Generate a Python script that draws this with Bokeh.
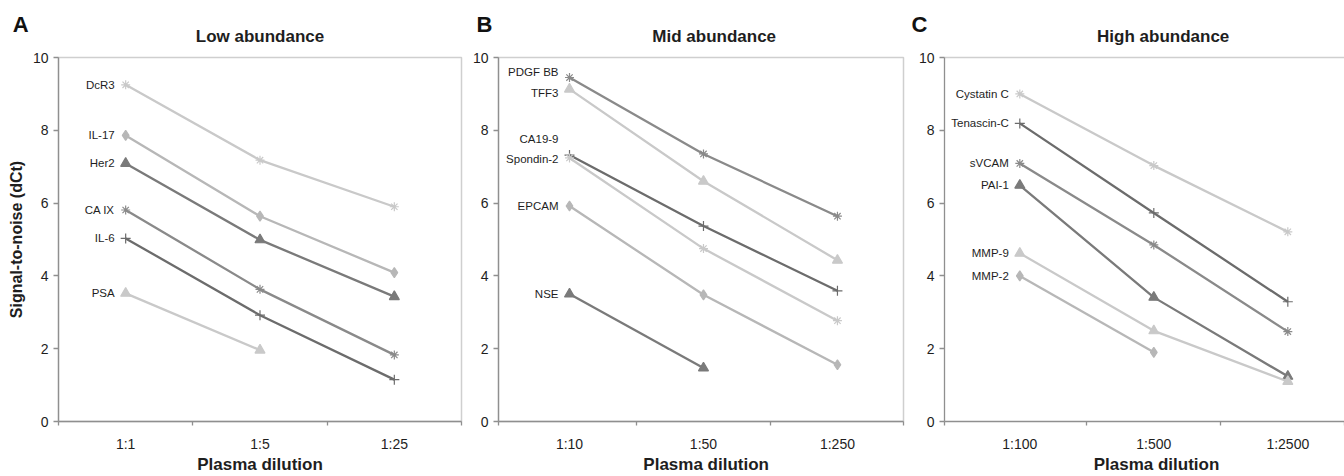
import math
from bokeh.plotting import figure
from bokeh.layouts import row
from bokeh.models import FixedTicker, Label, LinearAxis, Range1d
from bokeh.core.properties import value
from bokeh.embed import file_html
from bokeh.resources import INLINE

NAN = float("nan")

# ---------------- data ----------------
low_dilutions = ["1:1", "1:5", "1:25"]
low_names = ["DcR3", "IL-17", "Her2", "CA IX", "IL-6", "PSA"]
low_values = [
    [9.25, 7.18, 5.90],
    [7.86, 5.64, 4.09],
    [7.09, 4.99, 3.43],
    [5.81, 3.63, 1.83],
    [5.03, 2.92, 1.15],
    [3.52, 1.96, NAN],
]

mid_dilutions = ["1:10", "1:50", "1:250"]
mid_names = ["PDGF BB", "TFF3", "CA19-9", "Spondin-2", "EPCAM", "NSE"]
mid_values = [
    [9.45, 7.35, 5.64],
    [9.13, 6.60, 4.43],
    [7.32, 5.37, 3.59],
    [7.24, 4.75, 2.77],
    [5.92, 3.48, 1.56],
    [3.50, 1.47, NAN],
]

high_dilutions = ["1:100", "1:500", "1:2500"]
high_names = ["Cystatin C", "Tenascin-C", "sVCAM", "PAI-1", "MMP-9", "MMP-2"]
high_values = [
    [9.00, 7.03, 5.21],
    [8.19, 5.73, 3.29],
    [7.09, 4.85, 2.47],
    [6.49, 3.41, 1.24],
    [4.62, 2.49, 1.10],
    [4.00, 1.90, NAN],
]

# ---------------- styles ----------------
LIGHT = "#c9c9c9"
MIDLIGHT = "#b7b7b7"
MIDDARK = "#8a8a8a"
DARK = "#7a7a7a"
DARKEST = "#6c6c6c"
FONT = "Liberation Sans"
TXT = "#1e1e1e"
AXIS = "#8f8f8f"
BORDER = "#cfcfcf"

low_style = [("asterisk", LIGHT), ("diamond", MIDLIGHT), ("triangle", DARK),
             ("asterisk", MIDDARK), ("cross", DARKEST), ("triangle", LIGHT)]
mid_style = [("asterisk", MIDDARK), ("triangle", LIGHT), ("cross", DARKEST),
             ("asterisk", LIGHT), ("diamond", MIDLIGHT), ("triangle", DARK)]
high_style = [("asterisk", LIGHT), ("cross", DARKEST), ("asterisk", MIDDARK),
              ("triangle", DARK), ("triangle", LIGHT), ("diamond", MIDLIGHT)]

# vertical nudges (screen px, + = down) for series name labels
low_label_dy = [0, 0, 0, 0, 0, 0]
mid_label_dy = [-6, 4, -16, 1, 0, 0]
high_label_dy = [0, 0, 0, 0, 0, 0]

H = 476
TOP = 57
BOTTOM = 55
UNIT_Y = (H - TOP - BOTTOM) / 10.0

MSIZE = {"triangle": 10, "diamond": 10, "asterisk": 9, "cross": 10}


def y_of(px):
    """data y for a canvas pixel row (used for text outside the frame)"""
    return 10 - (px - TOP) / UNIT_Y


def make_panel(letter, title, cats, names, vals, styles, label_dy,
               width, left, right, x_start, x_end, letter_x, title_x,
               xlabel_x, ylabel=None, top_axis=False):
    p = figure(width=width, height=H, x_range=Range1d(x_start, x_end),
               y_range=Range1d(0, 10), output_backend="svg",
               toolbar_location=None, min_border=0,
               min_border_left=left, min_border_right=right,
               min_border_top=TOP, min_border_bottom=BOTTOM)
    p.xgrid.visible = False
    p.ygrid.visible = False

    if top_axis:
        p.outline_line_color = None
        top = LinearAxis(ticker=FixedTicker(ticks=[]), axis_line_color=BORDER,
                         axis_line_width=1.5, major_tick_line_color=None,
                         minor_tick_line_color=None, major_label_text_alpha=0)
        p.add_layout(top, "above")
    else:
        p.outline_line_color = BORDER
        p.outline_line_width = 1.5

    xs = list(range(len(cats)))
    xa = p.below[0]
    xa.ticker = FixedTicker(ticks=xs, minor_ticks=[x_start, 0.5, 1.5, x_end])
    xa.major_label_overrides = {i: c for i, c in enumerate(cats)}
    xa.major_tick_out = 0
    xa.major_tick_in = 0
    xa.minor_tick_out = 4
    xa.minor_tick_in = 0
    xa.axis_line_color = AXIS
    xa.axis_line_width = 1.3
    xa.minor_tick_line_color = AXIS
    xa.minor_tick_line_width = 1.3
    xa.major_label_standoff = 10
    xa.major_label_text_font = FONT
    xa.major_label_text_font_size = "14px"
    xa.major_label_text_color = TXT

    ya = p.left[0]
    ya.ticker = FixedTicker(ticks=[0, 2, 4, 6, 8, 10], minor_ticks=[])
    ya.major_tick_out = 5
    ya.major_tick_in = 0
    ya.axis_line_color = AXIS
    ya.axis_line_width = 1.3
    ya.major_tick_line_color = AXIS
    ya.major_tick_line_width = 1.3
    ya.major_label_standoff = 5
    ya.major_label_text_font = FONT
    ya.major_label_text_font_size = "14px"
    ya.major_label_text_color = TXT
    if ylabel:
        ya.axis_label = ylabel
        ya.axis_label_text_font = FONT
        ya.axis_label_text_font_size = "16px"
        ya.axis_label_text_font_style = "bold"
        ya.axis_label_text_color = TXT
        ya.axis_label_standoff = 5

    for name, v, (mk, col), dy in zip(names, vals, styles, label_dy):
        n = sum(1 for t in v if not math.isnan(t))
        p.line(xs[:n], v[:n], line_color=col, line_width=2.3)
        p.scatter(xs[:n], v[:n], marker=mk, size=MSIZE[mk], line_color=col,
                  fill_color=col, line_width=1.2)
        p.text([xs[0]], [v[0]], text=[name], x_offset=-11, y_offset=dy,
               text_align="right", text_baseline="middle",
               text_font=value(FONT), text_font_size="11.5px", text_color=TXT)

    # texts outside the frame live in the side panels
    p.add_layout(Label(x=letter_x, y=y_of(24), text=letter,
                       text_font=FONT, text_font_size="22px",
                       text_font_style="bold", text_color="#111111",
                       text_align="center", text_baseline="middle"), "above")
    p.add_layout(Label(x=title_x, y=y_of(36), text=title,
                       text_font=FONT, text_font_size="17px",
                       text_font_style="bold", text_color=TXT,
                       text_align="center", text_baseline="middle"), "above")
    p.add_layout(Label(x=xlabel_x, y=y_of(464), text="Plasma dilution",
                       text_font=FONT, text_font_size="17px",
                       text_font_style="bold", text_color=TXT,
                       text_align="center", text_baseline="middle"), "below")
    return p


pa = make_panel("A", "Low abundance", low_dilutions, low_names, low_values,
                low_style, low_label_dy, width=466, left=58, right=5,
                x_start=-0.5, x_end=2.5, letter_x=(20 - 125) / 134.3,
                title_x=1.0, xlabel_x=1.0,
                ylabel="Signal-to-noise (dCt)")
pb = make_panel("B", "Mid abundance", mid_dilutions, mid_names, mid_values,
                mid_style, mid_label_dy, width=442, left=32, right=5,
                x_start=-0.53, x_end=2.493, letter_x=(484 - 569) / 134.0,
                title_x=1.08, xlabel_x=1.02)
pc = make_panel("C", "High abundance", high_dilutions, high_names, high_values,
                high_style, high_label_dy, width=436, left=36, right=0,
                x_start=-0.562, x_end=2.423, letter_x=(919 - 1019.3) / 134.0,
                title_x=1.07, xlabel_x=1.02, top_axis=True)

layout = row(pa, pb, pc)
open("out.html", "w").write(file_html(layout, INLINE))
